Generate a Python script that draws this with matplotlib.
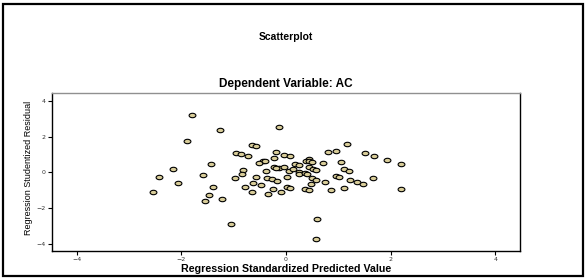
import numpy as np
import matplotlib
matplotlib.use("Agg")
import matplotlib.pyplot as plt
from matplotlib.path import Path
from matplotlib.patches import Rectangle

pred_x = [-1.80, -1.27, -0.14, -1.90, 1.16, -0.64, -0.58, -0.95, -0.86, -0.73,
          -0.20, -0.03, 0.07, -0.23, 0.80, 0.96, 1.51, 1.68, 1.92, 2.20,
          1.06, 0.70, 0.43, 0.39, 0.44, 0.50, -0.44, -0.52, -1.43, -2.16,
          -2.43, -2.07, -2.55, -1.59, -1.40, -1.47, -1.54, -1.22, -1.05, -0.98,
          -0.82, -0.84, -0.58, -0.79, -0.63, -0.48, -0.65, -0.34, -0.39, -0.36,
          -0.27, -0.17, -0.25, -0.10, -0.23, -0.13, -0.03, 0.05, 0.13, 0.01,
          0.01, 0.08, 0.17, 0.24, 0.25, 0.25, 0.36, 0.41, 0.43, 0.51,
          0.57, 0.50, 0.57, 0.47, 0.36, 0.43, 0.74, 0.86, 0.95, 1.02,
          1.10, 1.21, 1.10, 1.23, 1.36, 1.48, 1.67, 2.20, 0.60, 0.58,
          -0.40, -0.19]
resid_y = [3.22, 2.35, 2.56, 1.76, 1.62, 1.53, 1.49, 1.10, 1.03, 0.94,
           1.12, 0.97, 0.90, 0.83, 1.14, 1.21, 1.07, 0.94, 0.72, 0.48,
           0.57, 0.51, 0.77, 0.63, 0.63, 0.57, 0.66, 0.51, 0.46, 0.22,
           -0.28, -0.57, -1.08, -0.13, -0.81, -1.27, -1.60, -1.51, -2.87, -0.29,
           0.11, -0.07, -0.26, -0.81, -0.61, -0.70, -1.08, -1.18, 0.07, -0.29,
           -0.37, -0.46, -0.92, -1.07, 0.29, 0.24, 0.28, 0.07, 0.17, -0.28,
           -0.81, -0.85, 0.46, 0.40, 0.04, -0.11, -0.04, -0.09, 0.28, 0.20,
           0.15, -0.31, -0.40, -0.66, -0.90, -0.97, -0.53, -0.99, -0.18, -0.26,
           0.18, 0.09, -0.85, -0.44, -0.55, -0.64, -0.29, -0.94, -2.59, -3.73,
           0.64, 0.27]
ticks = [-4, -2, 0, 2, 4]

W, H = 587, 279
fig = plt.figure(figsize=(W / 100, H / 100), dpi=100)
fig.patch.set_facecolor("white")

# marco exterior
fig.add_artist(Rectangle((3 / W, 1 - 276 / H), (583 - 3) / W, (276 - 4) / H,
                         transform=fig.transFigure, fill=False,
                         edgecolor="black", lw=1.6, clip_on=False))

L, R, T, B = 52, 520, 93, 251
ax = fig.add_axes([L / W, 1 - B / H, (R - L) / W, (B - T) / H])

# marcador eliptico
t = np.linspace(0, 2 * np.pi, 40)
ell = Path(np.column_stack([np.cos(t), 0.65 * np.sin(t)]), closed=True)
ax.scatter(pred_x, resid_y, marker=ell, s=24, facecolor="#d8cc98",
           edgecolor="black", linewidths=0.8, zorder=3)

ax.set_xlim(-4.47, 4.47)
ax.set_ylim(-4.4, 4.45)
ax.set_xticks(ticks)
ax.set_yticks(ticks)
ax.tick_params(direction="out", length=3, width=0.8, labelsize=4.5,
               labelcolor="#333333", pad=1.5)
for s in ax.spines.values():
    s.set_linewidth(1.0)
    s.set_color("black")
ax.spines["top"].set_color("#909090")

fnt = ["Liberation Sans", "DejaVu Sans"]
cx = (L + R) / 2 / W
fig.text(cx, 1 - 37 / H, "Scatterplot", ha="center", va="center",
         fontsize=7.5, fontweight="bold", family=fnt)
fig.text(cx, 1 - 84 / H, "Dependent Variable: AC", ha="center", va="center",
         fontsize=8.5, fontweight="bold", family=fnt)
fig.text(cx, 1 - 269 / H, "Regression Standardized Predicted Value",
         ha="center", va="center", fontsize=7.7, fontweight="bold", family=fnt)
fig.text(29 / W, 1 - 168 / H, "Regression Studentized Residual",
         ha="center", va="center", rotation=90, fontsize=6.5,
         family=["Liberation Sans Narrow", "Liberation Sans"])

fig.savefig("out.png", dpi=100)
